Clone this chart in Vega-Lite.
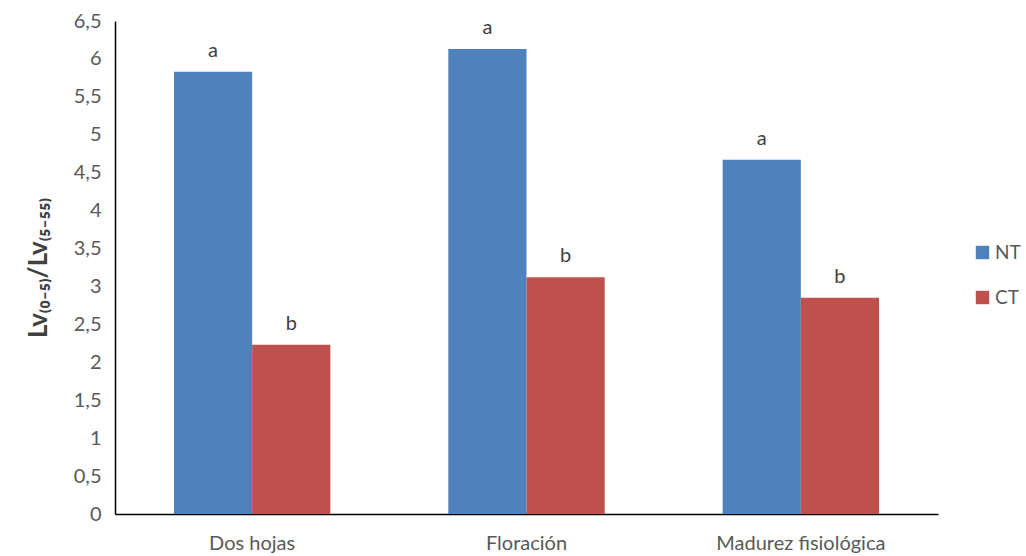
{
  "$schema": "https://vega.github.io/schema/vega-lite/v6.json",
  "width": 823,
  "height": 493,
  "autosize": "none",
  "padding": {"left": 115, "top": 21, "right": 88, "bottom": 42},
  "data": {
    "values": [
      {"etapa": "Dos hojas", "trat": "NT", "valor": 5.83, "letra": "a"},
      {"etapa": "Dos hojas", "trat": "CT", "valor": 2.23, "letra": "b"},
      {"etapa": "Floración", "trat": "NT", "valor": 6.13, "letra": "a"},
      {"etapa": "Floración", "trat": "CT", "valor": 3.12, "letra": "b"},
      {"etapa": "Madurez fisiológica", "trat": "NT", "valor": 4.67, "letra": "a"},
      {"etapa": "Madurez fisiológica", "trat": "CT", "valor": 2.85, "letra": "b"}
    ]
  },
  "encoding": {
    "x": {
      "field": "etapa", "type": "nominal", "sort": null,
      "scale": {"paddingInner": 0.43, "paddingOuter": 0.215},
      "axis": {"title": null, "labelAngle": 0, "ticks": false, "domainColor": "#000000", "domainWidth": 1.5,
        "labelFont": "Lato", "labelFontSize": 20, "labelColor": "#595959", "labelPadding": 19}
    },
    "xOffset": {"field": "trat", "type": "nominal", "sort": ["NT", "CT"]},
    "y": {
      "field": "valor", "type": "quantitative",
      "scale": {"domain": [0, 6.5], "nice": false},
      "axis": {
        "values": [0, 0.5, 1, 1.5, 2, 2.5, 3, 3.5, 4, 4.5, 5, 5.5, 6, 6.5],
        "labelExpr": "replace(toString(datum.value), '.', ',')",
        "grid": false, "ticks": false, "domainColor": "#000000", "domainWidth": 1.5,
        "labelFont": "Lato", "labelFontSize": 20, "labelColor": "#595959", "labelPadding": 14,
        "title": "Lv₍₀₋₅₎/Lv₍₅₋₅₅₎", "titleFont": "Lato", "titleFontSize": 26, "titleFontWeight": "bold",
        "titleColor": "#404040", "titlePadding": 22
      }
    }
  },
  "layer": [
    {
      "mark": {"type": "bar"},
      "encoding": {
        "color": {
          "field": "trat", "type": "nominal", "sort": ["NT", "CT"],
          "scale": {"domain": ["NT", "CT"], "range": ["#4F81BD", "#C0504D"]},
          "legend": {
            "title": null, "orient": "none", "legendX": 858, "legendY": 222,
            "symbolType": "square", "symbolSize": 180, "symbolStrokeWidth": 0,
            "labelFont": "Lato", "labelFontSize": 19, "labelColor": "#595959",
            "rowPadding": 25, "labelOffset": 3, "padding": 0
          }
        }
      }
    },
    {
      "mark": {"type": "text", "dy": -21, "font": "Lato", "fontSize": 20, "color": "#404040"},
      "encoding": {"text": {"field": "letra"}}
    }
  ],
  "config": {"view": {"stroke": null}}
}
